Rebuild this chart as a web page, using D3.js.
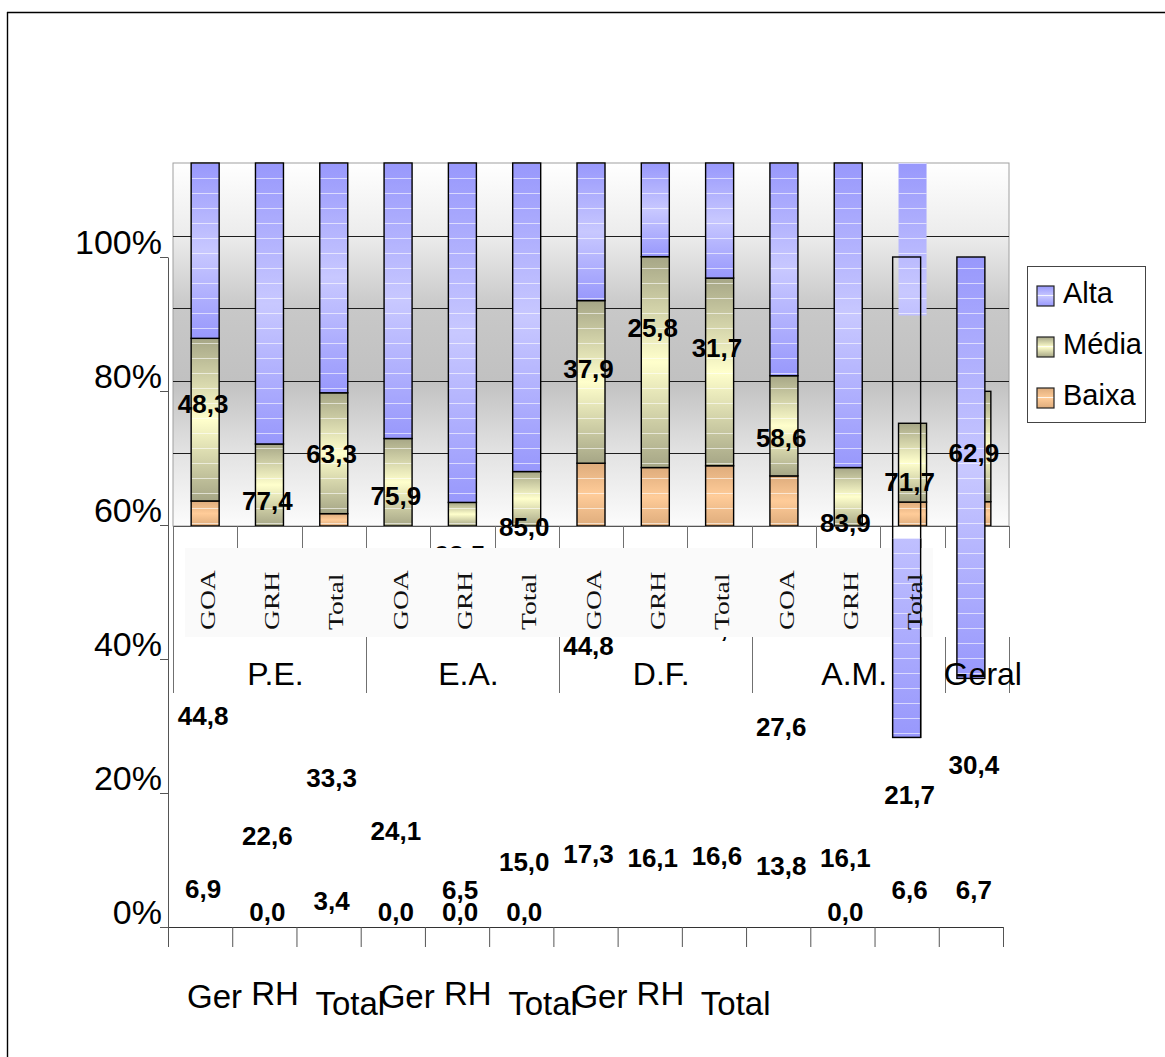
<!DOCTYPE html>
<html>
<head>
<meta charset="utf-8">
<script src="https://cdn.jsdelivr.net/npm/d3@7"></script>
<style>
  body { margin: 0; background: #ffffff; }
  svg { display: block; }
</style>
</head>
<body>
<svg id="chart" width="1165" height="1057"></svg>
<script>
// ---- data -------------------------------------------------------------
const groups = ["P.E.", "E.A.", "D.F.", "A.M.", "Geral"];
const groupSizes = [3, 3, 3, 3, 1];
const subCategories = ["GOA", "GRH", "Total", "GOA", "GRH", "Total", "GOA", "GRH", "Total", "GOA", "GRH", "Total", ""];
const baixa = [6.9, 0.0, 3.4, 0.0, 0.0, 0.0, 17.3, 16.1, 16.6, 13.8, 0.0, 6.6, 6.7];
const media = [44.8, 22.6, 33.3, 24.1, 6.5, 15.0, 44.8, 58.1, 51.7, 27.6, 16.1, 21.7, 30.4];
const alta  = [48.3, 77.4, 63.3, 75.9, 93.5, 85.0, 37.9, 25.8, 31.7, 58.6, 83.9, 71.7, 62.9];
const seriesKeys = ["Baixa", "Média", "Alta"];
const legendOrder = ["Alta", "Média", "Baixa"];
const yTickValues = [0, 20, 40, 60, 80, 100];
const axisCategoryLabels = ["Ger", "RH", "Total", "Ger", "RH", "Total", "Ger", "RH", "Total"];
// Alta segments of these columns are also drawn against the outer % axis
const outerAltaColumns = [11, 12];
// level where the A.M. Total Alta segment passes from the inner plot to the outer axis
const altaBreak = 58;

// ---- setup ------------------------------------------------------------
const svg = d3.select("#chart");
const defs = svg.append("defs");
const sans = "'Liberation Sans', Arial, Helvetica, sans-serif";
const serif = "'Liberation Serif', 'Times New Roman', serif";
const n = alta.length;
const idx = d3.range(n);
const rows = idx.map(i => ({ i, "Baixa": baixa[i], "Média": media[i], "Alta": alta[i] }));
const stacked = d3.stack().keys(seriesKeys)(rows);
const fmt = v => d3.format(".1f")(v).replace(".", ",");

// inner (framed) plot
const xIn = d3.scaleBand().domain(idx).range([173, 1009]).paddingInner(0.5645).paddingOuter(0.28225);
const xInEdge = d3.scaleLinear().domain([0, n]).range([173, 1009]);
const yIn = d3.scaleLinear().domain([0, 100]).range([526, 163]);
// outer percentage axis
const xOut = d3.scaleBand().domain(idx).range([168, 1003]).paddingInner(0.5645).paddingOuter(0.28225);
const xOutEdge = d3.scaleLinear().domain([0, n]).range([168, 1003]);
const yOut = d3.scaleLinear().domain([0, 100]).range([927, 257]);

// ---- gradients & patterns ------------------------------------------------
const palette = {
  "Alta":  { dark: "#9898fc", light: "#c8c8ff" },
  "Média": { dark: "#a6a686", light: "#ffffcc" },
  "Baixa": { dark: "#deac7c", light: "#ffcc99" }
};
Object.entries(palette).forEach(([k, c], j) => {
  const g = defs.append("linearGradient").attr("id", "g" + j)
    .attr("x1", 0).attr("y1", 0).attr("x2", 0).attr("y2", 1);
  g.append("stop").attr("offset", 0).attr("stop-color", c.dark);
  g.append("stop").attr("offset", 0.5).attr("stop-color", c.light);
  g.append("stop").attr("offset", 1).attr("stop-color", c.dark);
  c.id = "g" + j;
});

const bg = defs.append("linearGradient").attr("id", "plotBg")
  .attr("x1", 0).attr("y1", 0).attr("x2", 0).attr("y2", 1);
[[0, "#ffffff"], [0.2, "#ececec"], [0.4, "#c8c8c8"], [0.6, "#c1c1c1"], [0.8, "#e3e3e3"], [1, "#fcfcfc"]]
  .forEach(([o, c]) => bg.append("stop").attr("offset", o).attr("stop-color", c));

const stripes = defs.append("pattern").attr("id", "stripes")
  .attr("patternUnits", "userSpaceOnUse").attr("x", 0).attr("y", 163)
  .attr("width", 20).attr("height", 15);
stripes.append("rect").attr("x", 0).attr("y", 0).attr("width", 20).attr("height", 1)
  .attr("fill", "#ffffff").attr("opacity", 0.6);

// clip: upper part of the inner plot (above the break level)
defs.append("clipPath").attr("id", "clipUpper").append("rect")
  .attr("x", 0).attr("y", 0).attr("width", 1165).attr("height", yIn(altaBreak));
// clip: lower part on the outer axis (below the break level)
defs.append("clipPath").attr("id", "clipLower").append("rect")
  .attr("x", 0).attr("y", yOut(altaBreak)).attr("width", 1165).attr("height", 1057 - yOut(altaBreak));

// ---- outer frame -------------------------------------------------------
svg.append("line").attr("x1", 7).attr("y1", 12.5).attr("x2", 1165).attr("y2", 12.5)
  .attr("stroke", "#000").attr("stroke-width", 1.4);
svg.append("line").attr("x1", 7.5).attr("y1", 12).attr("x2", 7.5).attr("y2", 1057)
  .attr("stroke", "#000").attr("stroke-width", 1.4);

// ---- inner plot ----------------------------------------------------------
const inner = svg.append("g");
inner.append("rect")
  .attr("x", xInEdge(0)).attr("y", yIn(100))
  .attr("width", xInEdge(n) - xInEdge(0)).attr("height", yIn(0) - yIn(100))
  .attr("fill", "url(#plotBg)").attr("stroke", "#a0a0a0").attr("stroke-width", 1);

inner.selectAll("line.grid").data([20, 40, 60, 80]).join("line")
  .attr("class", "grid")
  .attr("x1", xInEdge(0)).attr("x2", xInEdge(n))
  .attr("y1", d => Math.round(yIn(d)) + 0.5).attr("y2", d => Math.round(yIn(d)) + 0.5)
  .attr("stroke", "#1e1e1e").attr("stroke-width", 1);

function segment(g, x, w, y0, y1, key, opts) {
  const h = y0 - y1;
  if (h <= 0) return;
  const s = g.append("g");
  if (opts && opts.clip) s.attr("clip-path", opts.clip);
  s.append("rect").attr("x", x).attr("y", y1).attr("width", w).attr("height", h)
    .attr("fill", "url(#" + palette[key].id + ")");
  s.append("rect").attr("x", x).attr("y", y1).attr("width", w).attr("height", h)
    .attr("fill", "url(#stripes)");
  if (!(opts && opts.noStroke)) {
    s.append("rect").attr("x", x).attr("y", y1).attr("width", w).attr("height", h)
      .attr("fill", "none").attr("stroke", "#000").attr("stroke-width", 1.4);
  }
}

stacked.forEach(layer => {
  layer.forEach(d => {
    const i = d.data.i;
    if (layer.key === "Alta" && i === outerAltaColumns[1]) return;
    if (layer.key === "Alta" && i === outerAltaColumns[0]) {
      segment(inner, xIn(i), xIn.bandwidth(), yIn(d[0]), yIn(d[1]), "Alta",
        { noStroke: true, clip: "url(#clipUpper)" });
      return;
    }
    segment(inner, xIn(i), xIn.bandwidth(), yIn(d[0]), yIn(d[1]), layer.key);
  });
});

inner.append("line").attr("x1", xInEdge(0)).attr("x2", xInEdge(n))
  .attr("y1", yIn(0) + 0.5).attr("y2", yIn(0) + 0.5).attr("stroke", "#555").attr("stroke-width", 1.2);

// category dividers under the inner plot
const groupEdges = [0, ...d3.cumsum(groupSizes)];
inner.selectAll("line.div").data(d3.range(n + 1)).join("line")
  .attr("class", "div")
  .attr("x1", k => Math.round(xInEdge(k)) + 0.5).attr("x2", k => Math.round(xInEdge(k)) + 0.5)
  .attr("y1", yIn(0)).attr("y2", 548)
  .attr("stroke", "#707070").attr("stroke-width", 1);
inner.selectAll("line.gdiv").data(groupEdges).join("line")
  .attr("class", "gdiv")
  .attr("x1", k => Math.round(xInEdge(k)) + 0.5).attr("x2", k => Math.round(xInEdge(k)) + 0.5)
  .attr("y1", k => k === 0 ? yIn(0) : 637).attr("y2", 693)
  .attr("stroke", "#707070").attr("stroke-width", 1);

// ---- outer axes --------------------------------------------------------
const yAxis = svg.append("g").attr("transform", "translate(168,0)")
  .call(d3.axisLeft(yOut).tickValues(yTickValues).tickSize(8).tickSizeOuter(0)
    .tickPadding(-2).tickFormat(d => d + "%"));
yAxis.select(".domain").attr("stroke", "#555");
yAxis.selectAll(".tick line").attr("stroke", "#555");
yAxis.selectAll(".tick text").attr("font-family", sans).attr("font-size", 34)
  .attr("fill", "#000").attr("dy", "-0.09em");

const xAxis = svg.append("g").attr("transform", "translate(0,927)")
  .call(d3.axisBottom(xOutEdge).tickValues(d3.range(n + 1)).tickSize(20).tickSizeOuter(0).tickFormat(""));
xAxis.select(".domain").attr("stroke", "#333");
xAxis.selectAll(".tick line").attr("stroke", "#555");

svg.selectAll("text.cat").data(axisCategoryLabels).join("text")
  .attr("class", "cat")
  .attr("x", (d, i) => xOutEdge(i) + 19)
  .attr("y", d => 1008 + ({ "Ger": 0, "RH": -3, "Total": 7 })[d])
  .attr("font-family", sans).attr("font-size", 33).attr("fill", "#000")
  .text(d => d);

// ---- Alta segments on the outer axis ---------------------------------------
const altaLayer = stacked.find(l => l.key === "Alta");
const outer = svg.append("g");
{
  const d = altaLayer[outerAltaColumns[0]];
  outer.append("rect")
    .attr("x", xOut(outerAltaColumns[0])).attr("y", yOut(d[1]))
    .attr("width", xOut.bandwidth()).attr("height", yOut(d[0]) - yOut(d[1]))
    .attr("fill", "none").attr("stroke", "#000").attr("stroke-width", 1.4);
}
{
  const i = outerAltaColumns[1];
  const d = altaLayer[i];
  segment(outer, xOut(i), xOut.bandwidth(), yOut(d[0]), yOut(d[1]), "Alta");
}

// ---- value labels ----------------------------------------------------------
const labels = svg.append("g");
stacked.forEach(layer => {
  layer.forEach(d => {
    const i = d.data.i;
    const v = d.data[layer.key];
    labels.append("text")
      .attr("x", xOut(i) + xOut.bandwidth() / 2 + 3)
      .attr("y", yOut((d[0] + d[1]) / 2) - 6)
      .attr("text-anchor", "middle")
      .attr("font-family", sans).attr("font-size", 26).attr("font-weight", "bold")
      .attr("fill", "#000")
      .text(fmt(v));
  });
});

// ---- sub-category band -------------------------------------------------
svg.append("rect").attr("x", 185).attr("y", 548).attr("width", 748).attr("height", 89)
  .attr("fill", "#fafafa");

{
  const i = outerAltaColumns[0];
  const d = altaLayer[i];
  segment(svg, xOut(i), xOut.bandwidth(), yOut(d[0]), yOut(d[1]), "Alta", { clip: "url(#clipLower)" });
}

svg.selectAll("text.sub").data(idx.filter(i => subCategories[i])).join("text")
  .attr("class", "sub")
  .attr("transform", i => `translate(${xIn(i) + xIn.bandwidth() / 2 + 3},630) rotate(-90) scale(1.38,1)`)
  .attr("dominant-baseline", "central")
  .attr("font-family", serif).attr("font-size", 20).attr("fill", "#111")
  .text(i => subCategories[i]);

svg.selectAll("text.grp").data(groups).join("text")
  .attr("class", "grp")
  .attr("x", (d, j) => (xInEdge(groupEdges[j]) + xInEdge(groupEdges[j + 1])) / 2 + 6)
  .attr("y", 685)
  .attr("text-anchor", "middle")
  .attr("font-family", sans).attr("font-size", 32).attr("fill", "#000")
  .text(d => d);

// ---- legend ----------------------------------------------------------------
const legend = svg.append("g").attr("transform", "translate(1027,266)");
legend.append("rect").attr("x", 0.5).attr("y", 0.5).attr("width", 118).attr("height", 156)
  .attr("fill", "#ffffff").attr("stroke", "#444").attr("stroke-width", 1);
legendOrder.forEach((k, j) => {
  const item = legend.append("g").attr("transform", `translate(10,${20 + j * 51})`);
  item.append("rect").attr("width", 17).attr("height", 20).attr("fill", "url(#" + palette[k].id + ")");
  item.append("rect").attr("y", 9).attr("width", 17).attr("height", 1).attr("fill", "#fff").attr("opacity", 0.8);
  item.append("rect").attr("width", 17).attr("height", 20).attr("fill", "none")
    .attr("stroke", "#222").attr("stroke-width", 1.2);
  item.append("text").attr("x", 26).attr("y", 17)
    .attr("font-family", sans).attr("font-size", 29).attr("fill", "#000")
    .text(k);
});
</script>
</body>
</html>
